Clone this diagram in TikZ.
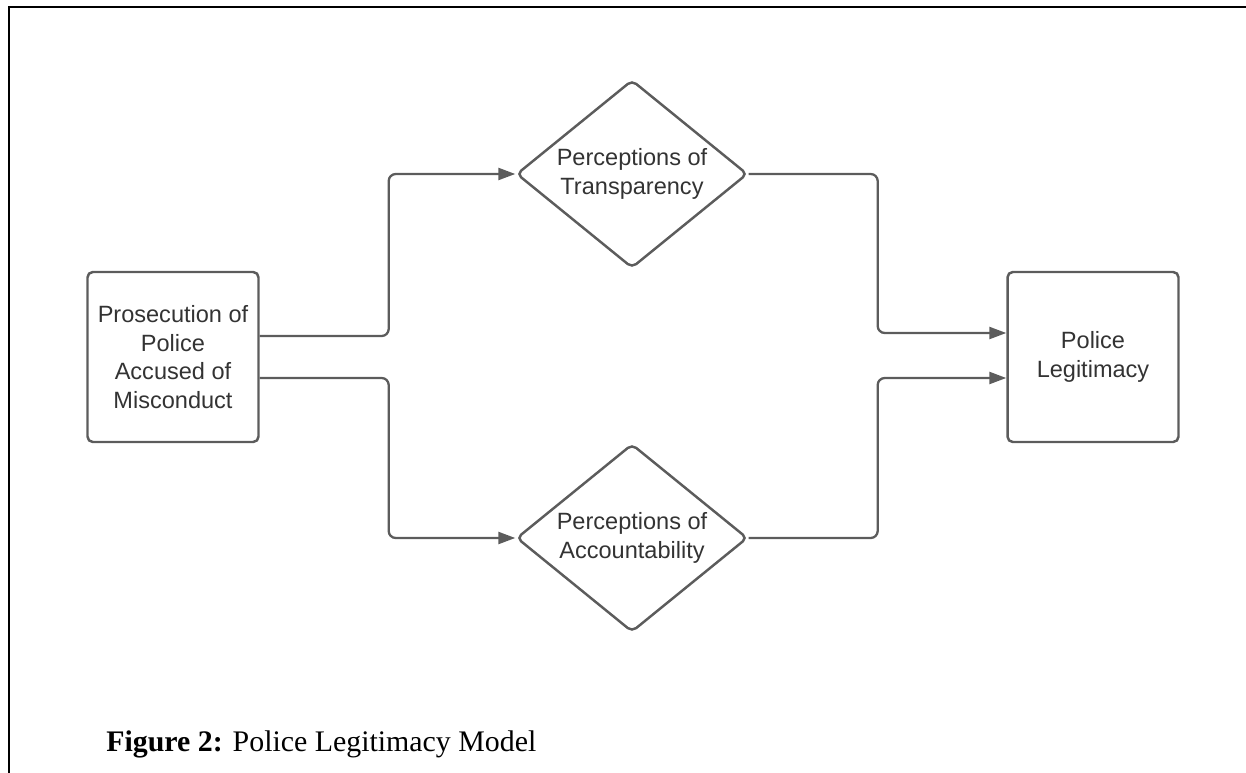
\documentclass[tikz,border=0pt]{standalone}
\usepackage{fontspec}
\setmainfont{Liberation Serif}
\newfontfamily\boxfont{Liberation Sans}
\usepackage{xcolor}
\usetikzlibrary{arrows.meta, positioning, shapes.geometric}

\definecolor{linegray}{HTML}{5C5C5C}
\definecolor{textgray}{HTML}{333333}

\begin{document}
\begin{tikzpicture}[
    x=0.02cm, y=-0.02cm,
    box/.style={draw=linegray, line width=1.4pt, rounded corners=3pt, minimum width=3.42cm, minimum height=3.40cm, inner sep=0pt, align=center, text=textgray, font=\boxfont\fontsize{13.4}{16.3}\selectfont},
    dmd/.style={draw=linegray, line width=1.4pt, diamond, aspect=1.23, rounded corners=3pt, minimum width=4.62cm, minimum height=3.76cm, inner sep=0pt, align=center, text=textgray, font=\boxfont\fontsize{13.4}{16.3}\selectfont},
    arrow/.style={draw=linegray, line width=1.3pt, rounded corners=4pt, -{Triangle[length=0.34cm, width=0.24cm]}},
    frame/.style={draw=black, line width=1.7pt},
    caption/.style={anchor=base west, inner sep=0pt, font=\fontsize{17}{20}\selectfont}
]
\useasboundingbox (0,0) rectangle (1246,773);

% --- Outer frame ---
\draw[frame] (9,773) -- (9,7) -- (1246,7);

% --- Nodes ---
\node[box] (prosec) at (173,357) {Prosecution of\\Police\\Accused of\\Misconduct};
\node[dmd] (transp) at (632,174) {Perceptions of\\Transparency};
\node[dmd] (account) at (632,538) {Perceptions of\\Accountability};
\node[box] (legit) at (1093,357) {Police\\Legitimacy};

% --- Connectors ---
\draw[arrow] ([yshift=0.42cm]prosec.east) -- ++(2.58cm,0) |- (transp.west);
\draw[arrow] ([yshift=-0.42cm]prosec.east) -- ++(2.58cm,0) |- (account.west);
\draw[arrow] (transp.east) -- ++(2.58cm,0) |- ([yshift=0.48cm]legit.west);
\draw[arrow] (account.east) -- ++(2.58cm,0) |- ([yshift=-0.42cm]legit.west);

% Caption
\node[caption] (cap) at (106,751) {\textbf{Figure 2:} Police Legitimacy Model};

\end{tikzpicture}
\end{document}
